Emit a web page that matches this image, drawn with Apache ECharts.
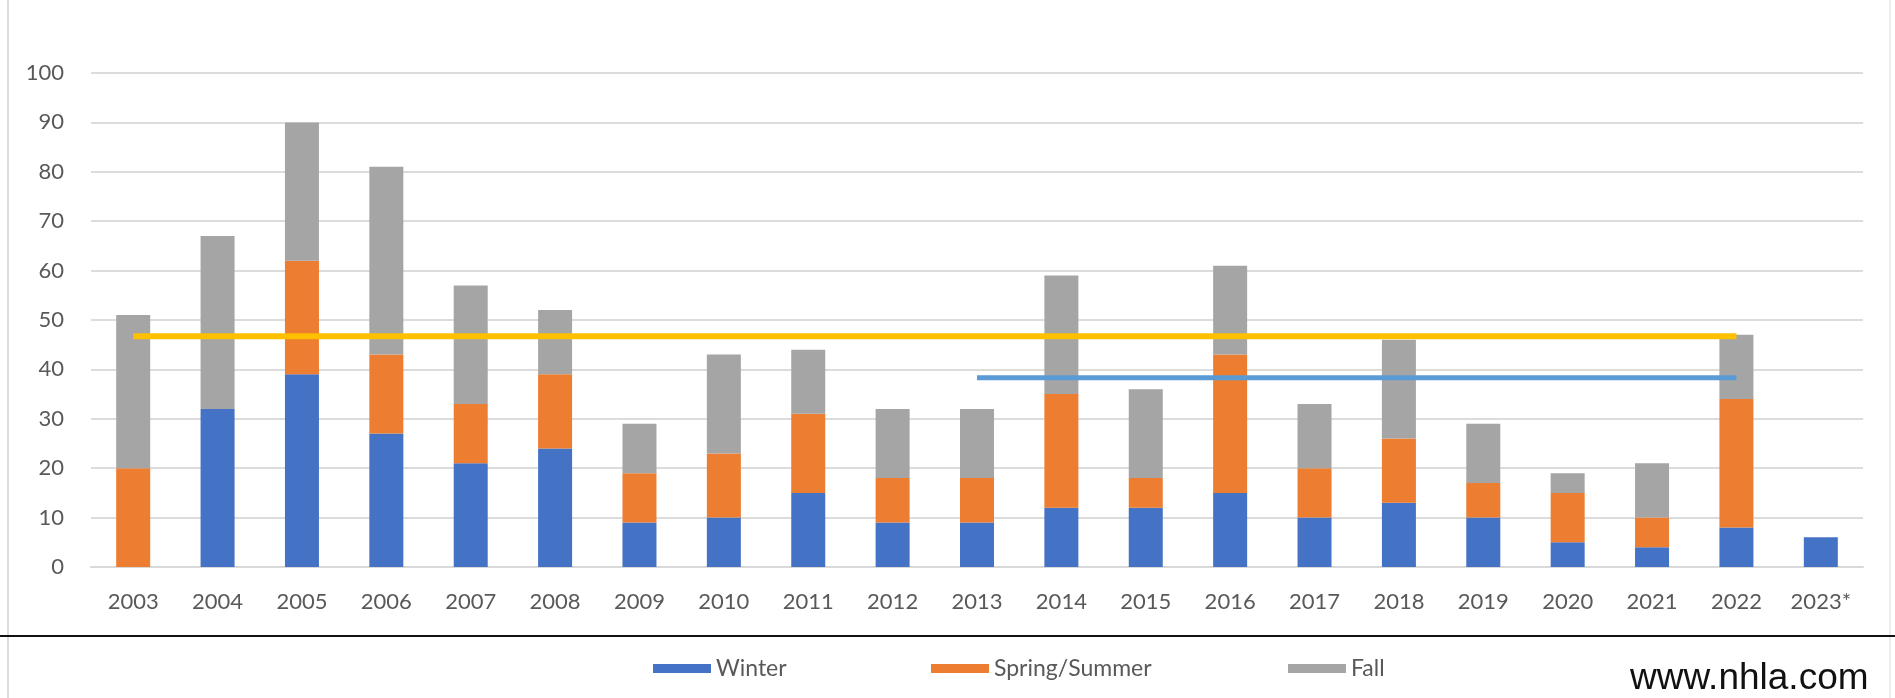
<!DOCTYPE html>
<html>
<head>
<meta charset="utf-8">
<script src="https://cdn.jsdelivr.net/npm/echarts@6/dist/echarts.min.js"></script>
<style>
html, body { margin: 0; padding: 0; background: #fff; }
#cht { width: 1895px; height: 698px; }
</style>
</head>
<body>
<div id="cht"></div>
<script>
var years = ['2003','2004','2005','2006','2007','2008','2009','2010','2011','2012',
             '2013','2014','2015','2016','2017','2018','2019','2020','2021','2022','2023*'];

var winter = [0, 32, 39, 27, 21, 24, 9, 10, 15, 9, 9, 12, 12, 15, 10, 13, 10, 5, 4, 8, 6];
var springSummer = [20, 0, 23, 16, 12, 15, 10, 13, 16, 9, 9, 23, 6, 28, 10, 13, 7, 10, 6, 26, null];
var fall = [31, 35, 28, 38, 24, 13, 10, 20, 13, 14, 14, 24, 18, 18, 13, 20, 12, 4, 11, 13, null];

// average lines (20 yr and last 10 yr)
var avgAll = [46.7, 46.7, 46.7, 46.7, 46.7, 46.7, 46.7, 46.7, 46.7, 46.7,
              46.7, 46.7, 46.7, 46.7, 46.7, 46.7, 46.7, 46.7, 46.7, 46.7, null];
var avgTen = [null, null, null, null, null, null, null, null, null, null,
              38.3, 38.3, 38.3, 38.3, 38.3, 38.3, 38.3, 38.3, 38.3, 38.3, null];

var yTicks = { min: 0, max: 100, interval: 10 };

var font = 'Lato, "Noto Sans", sans-serif';
var txtColor = '#595959';

function legendAt(name, left) {
    return {
        data: [name],
        left: left,
        top: 652,
        itemWidth: 58,
        itemHeight: 9,
        icon: 'rect',
        textStyle: { color: txtColor, fontSize: 23, fontFamily: font }
    };
}

var config = {
    animation: false,
    backgroundColor: '#fff',
    grid: {
        left: 91,
        right: 32,
        top: 73,
        bottom: 131
    },
    legend: [
        legendAt('Winter', 648),
        legendAt('Spring/Summer', 926),
        legendAt('Fall', 1283)
    ],
    xAxis: {
        type: 'category',
        data: years,
        axisLine: { show: true, lineStyle: { color: '#d9d9d9', width: 2 } },
        axisTick: { show: false },
        axisLabel: { color: txtColor, fontSize: 22, fontFamily: font, margin: 24 }
    },
    yAxis: {
        type: 'value',
        min: yTicks.min,
        max: yTicks.max,
        interval: yTicks.interval,
        axisLine: { show: false },
        axisTick: { show: false },
        splitLine: { lineStyle: { color: '#dcdcdc', width: 2 } },
        axisLabel: { color: txtColor, fontSize: 22, fontFamily: font, margin: 27 }
    },
    color: ['#4472c4', '#ed7d31', '#a5a5a5'],
    series: [
        { name: 'Winter', type: 'bar', stack: 'total', barWidth: 34, data: winter },
        { name: 'Spring/Summer', type: 'bar', stack: 'total', barWidth: 34, data: springSummer },
        { name: 'Fall', type: 'bar', stack: 'total', barWidth: 34, data: fall },
        {
            name: 'avg', type: 'line', data: avgAll, symbol: 'none', z: 5,
            lineStyle: { color: '#ffc000', width: 6 }
        },
        {
            name: 'avg10', type: 'line', data: avgTen, symbol: 'none', z: 5,
            lineStyle: { color: '#5b9bd5', width: 5 }
        }
    ],
    graphic: [
        { type: 'line', shape: { x1: 8, y1: 0, x2: 8, y2: 698 }, style: { stroke: '#dddddd', lineWidth: 2 } },
        { type: 'line', shape: { x1: 1890, y1: 0, x2: 1890, y2: 698 }, style: { stroke: '#eeeeee', lineWidth: 2 } },
        { type: 'line', shape: { x1: 0, y1: 636, x2: 1895, y2: 636 }, style: { stroke: '#111111', lineWidth: 2 } },
        {
            type: 'text', left: 1630, top: 660,
            style: { text: 'www.nhla.com', fill: '#111', fontSize: 37, fontFamily: '"Liberation Sans", Arial, sans-serif' }
        }
    ]
};

window.onload = function() {
    var myChart = echarts.init(document.getElementById('cht'));
    myChart.setOption(config);
};
</script>
</body>
</html>
